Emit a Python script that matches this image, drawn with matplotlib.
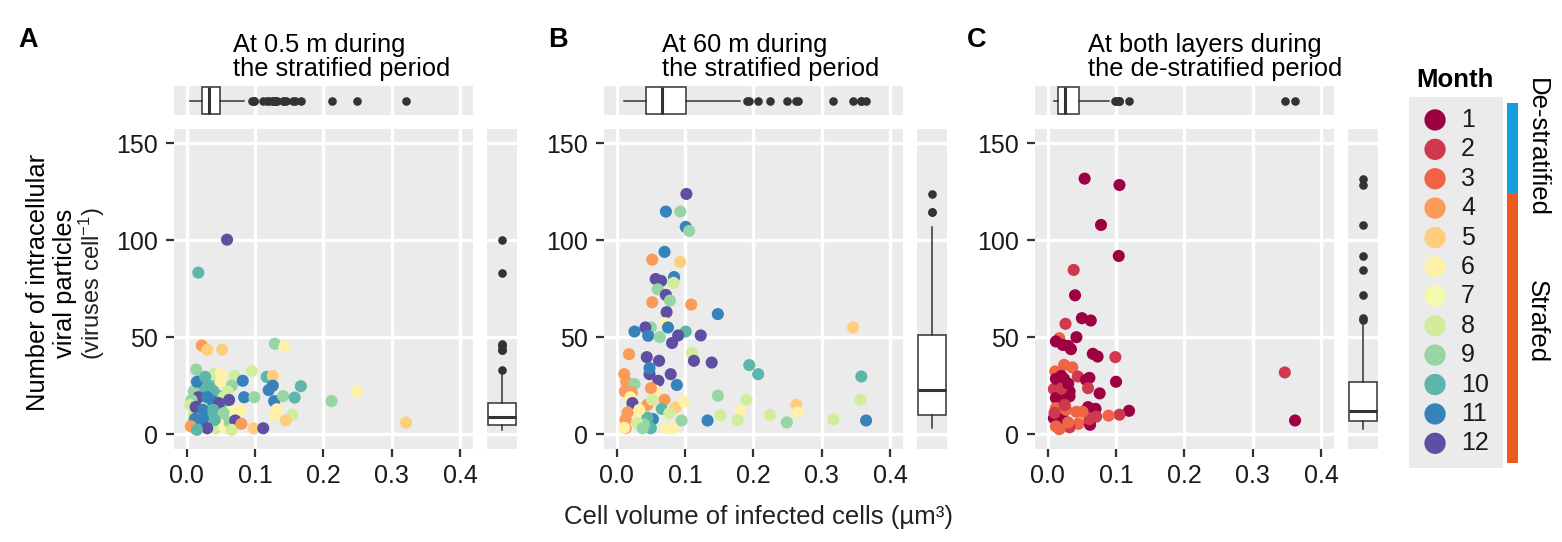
import numpy as np
import matplotlib
matplotlib.use('Agg')
import matplotlib.pyplot as plt
import matplotlib.transforms as mtransforms

plt.rcParams['font.family'] = ['Liberation Sans', 'DejaVu Sans']
plt.rcParams['mathtext.fontset'] = 'custom'
plt.rcParams['mathtext.rm'] = 'Liberation Sans'
plt.rcParams['mathtext.it'] = 'Liberation Sans:italic'

W, H = 1562, 542

# ─── data ────────────────────────────────────────────────────────────────────

# A: 0.5 m, stratified
month_a = [10, 10, 10, 10, 10, 10, 10, 10, 9, 9, 9, 9, 9, 8, 8, 8, 8, 7, 7, 6,
           11, 11, 9, 10, 8, 9, 6, 5, 4,
           9, 8, 6, 6, 8, 11, 10, 10, 9, 8, 8, 11, 11, 9, 12, 11, 12, 12, 9, 8,
           12, 11, 10, 9, 11, 11, 10, 6, 12, 12, 4, 10, 8, 4, 5, 12, 10, 5, 11,
           11, 11, 9, 10, 10, 6, 6, 8, 5, 9, 6, 4, 5, 5, 9, 6, 12, 10, 5]
vol_a = [0.020, 0.025, 0.035, 0.045, 0.018, 0.028, 0.050, 0.038, 0.010, 0.022,
         0.045, 0.035, 0.060, 0.010, 0.042, 0.070, 0.030, 0.055, 0.065, 0.058,
         0.020, 0.038, 0.015, 0.048, 0.008, 0.063, 0.045, 0.010, 0.012,
         0.014, 0.039, 0.050, 0.050, 0.095, 0.015, 0.027, 0.032, 0.066, 0.060,
         0.054, 0.082, 0.084, 0.099, 0.017, 0.030, 0.047, 0.062, 0.007, 0.005,
         0.013, 0.024, 0.039, 0.054, 0.012, 0.024, 0.041, 0.079, 0.071, 0.030,
         0.006, 0.015, 0.066, 0.080, 0.098, 0.112, 0.117, 0.126, 0.126, 0.120,
         0.128, 0.141, 0.158, 0.167, 0.132, 0.129, 0.155, 0.145, 0.212, 0.249,
         0.022, 0.030, 0.052, 0.129, 0.143, 0.059, 0.017, 0.321]
vir_a = [22, 16, 10, 20, 5, 4, 6, 24, 22, 28, 28, 5, 14, 10, 3, 30, 15, 4, 12, 3,
         9, 17, 12, 14, 6, 6, 8, 5, 3,
         33.3, 31, 31, 27, 32.6, 27, 29.5, 25, 25, 22, 19, 27.5, 19, 19, 19, 19,
         16, 17.6, 17.6, 15, 14, 12.5, 12.5, 10.8, 7.8, 7.8, 7.3, 12.5, 7, 3, 4,
         2.2, 2.2, 5.3, 3, 3, 29.5, 30, 25, 22.7, 17, 19.6, 18.8, 24.7, 12.8, 10,
         10, 7, 17, 21.8, 45.7, 43.5, 43.5, 46.6, 45.2, 100.3, 83.3, 5.9]

# B: 60 m, stratified
month_b = [12, 11, 9, 11, 9, 11, 4, 5, 11, 12, 12, 8, 9, 12, 9, 4, 4, 12, 11,
           6, 11, 9, 12, 11, 11, 9, 10, 12, 12, 12, 5, 8, 12, 12, 4, 12, 12, 10,
           10, 10, 4, 4, 12, 12, 12, 11, 9, 4, 4, 6, 6, 9, 8, 8, 4, 12, 4, 10,
           5, 6, 5, 6, 6, 8, 8, 8, 9, 8, 11, 11, 9, 11, 4, 6, 4, 10, 6, 6, 6, 8,
           10, 9, 11, 4, 8, 6, 4, 6, 8, 9]
vol_b = [0.102, 0.072, 0.093, 0.101, 0.106, 0.070, 0.052, 0.093, 0.084, 0.057,
         0.065, 0.083, 0.060, 0.072, 0.078, 0.052, 0.109, 0.073, 0.148, 0.071,
         0.075, 0.050, 0.042, 0.026, 0.046, 0.063, 0.101, 0.090, 0.123, 0.081,
         0.346, 0.110, 0.113, 0.139, 0.018, 0.044, 0.062, 0.194, 0.207, 0.358,
         0.011, 0.014, 0.048, 0.061, 0.079, 0.088, 0.026, 0.012, 0.022, 0.020,
         0.056, 0.148, 0.190, 0.357, 0.070, 0.023, 0.045, 0.066, 0.086, 0.099,
         0.263, 0.265, 0.181, 0.152, 0.224, 0.177, 0.249, 0.317, 0.365, 0.133,
         0.095, 0.053, 0.016, 0.012, 0.013, 0.050, 0.072, 0.082, 0.033, 0.077,
         0.045, 0.040, 0.048, 0.050, 0.052, 0.033, 0.013, 0.011, 0.030, 0.038]
vir_b = [123.9, 114.8, 114.8, 106.9, 104.8, 94, 90, 88.8, 81, 80, 79, 78, 74.7,
         71.8, 68.9, 68, 66.8, 62.9, 61.9, 57.2, 55, 55, 55, 52.9, 50.7, 50,
         52.9, 50.9, 50.9, 47, 55, 41.8, 37.8, 36.9, 41.2, 39.7, 37.8, 35.6,
         30.9, 29.7, 30.9, 27.1, 30.9, 27.5, 30.9, 25.3, 25.8, 22, 21.5, 19,
         22.5, 19.8, 17.7, 17.7, 17.7, 16, 15.1, 13, 13.7, 16.8, 15.1, 11.2, 12,
         9.8, 9.8, 7.2, 6, 7.7, 7, 7, 7, 7.7, 11.2, 6, 3, 3, 3, 3, 7.7, 10.8,
         8.5, 5, 34, 23.7, 17.7, 12.5, 7.4, 3.2, 5.7, 3]

# C: both layers, de-stratified
month_c = [1, 1, 1, 1, 2, 1, 1, 1, 2, 1, 3, 1, 1, 1, 1, 1, 1, 2, 3, 3, 2, 3,
           1, 1, 2, 1, 1, 1, 2, 1, 1, 2, 1, 1, 1, 1, 2, 3, 1, 1, 1, 2, 3, 2, 1,
           3, 1, 2, 1, 1, 3, 3, 3, 2, 3, 3, 2, 1, 3, 2]
vol_c = [0.054, 0.105, 0.078, 0.104, 0.038, 0.040, 0.050, 0.063, 0.026, 0.042,
         0.017, 0.012, 0.022, 0.034, 0.030, 0.066, 0.073, 0.099, 0.024, 0.036,
         0.347, 0.011, 0.024, 0.020, 0.044, 0.056, 0.061, 0.100, 0.009, 0.012,
         0.032, 0.059, 0.076, 0.012, 0.024, 0.032, 0.020, 0.012, 0.059, 0.070,
         0.119, 0.105, 0.089, 0.071, 0.362, 0.045, 0.062, 0.061, 0.009, 0.022,
         0.027, 0.042, 0.051, 0.032, 0.012, 0.017, 0.010, 0.030, 0.030, 0.025]
vir_c = [131.8, 128.5, 107.9, 91.9, 84.7, 71.6, 59.8, 58.6, 56.9, 50, 49.5,
         47.8, 46, 43.8, 45.5, 41.4, 40, 39.7, 35.7, 34.4, 31.8, 32.3, 28.4, 30,
         29.7, 28, 29, 27, 23.2, 28.5, 22, 23.7, 21, 18.6, 17.7, 19.5, 23.5,
         13.4, 13.9, 13, 12, 10, 9.5, 9, 7, 5.3, 4.8, 7.7, 8.2, 8.2, 12.5, 11.5,
         11.5, 3.5, 4, 2.5, 11, 26, 6, 15]

# box quartiles (q1, median, q3)
volq_a = [0.0227, 0.033, 0.049]
virq_a = [4.8, 8.8, 16.0]
volq_b = [0.0436, 0.0656, 0.102]
virq_b = [10.0, 22.9, 50.9]
volq_c = [0.0147, 0.0254, 0.0455]
virq_c = [6.5, 12.0, 26.8]

letters = ['A', 'B', 'C']
titles = [['At 0.5 m during', 'the stratified period'],
          ['At 60 m during', 'the stratified period'],
          ['At both layers during', 'the de-stratified period']]

months = list(range(1, 13))
periods = ['De-stratified', 'Strafed']
period_months = [[1, 2, 3], [4, 5, 6, 7, 8, 9, 10, 11, 12]]
period_colors = ['#139FE0', '#E95A1C']

x_ticks = [0.0, 0.1, 0.2, 0.3, 0.4]
y_ticks = [0, 50, 100, 150]

# ─── layout helpers ──────────────────────────────────────────────────────────

def box_px(x0, y0, x1, y1):
    return [x0 / W, 1 - y1 / H, (x1 - x0) / W, (y1 - y0) / H]

def make_stats(data, q):
    q1, med, q3 = q
    d = np.asarray(data)
    iqr = q3 - q1
    lo, hi = q1 - 1.5 * iqr, q3 + 1.5 * iqr
    inside = d[(d >= lo) & (d <= hi)]
    return dict(q1=q1, med=med, q3=q3, whislo=inside.min(),
                whishi=inside.max(), fliers=d[(d < lo) | (d > hi)])

BG = '#EBEBEB'
DARK = '#333333'
cols = plt.cm.Spectral(np.linspace(0, 1, 12))

bx_kw = dict(widths=0.92, showcaps=False, patch_artist=True,
             boxprops=dict(facecolor='white', edgecolor=DARK, linewidth=1.1),
             whiskerprops=dict(color=DARK, linewidth=1.1),
             medianprops=dict(color=DARK, linewidth=2.2),
             flierprops=dict(marker='o', markerfacecolor=DARK,
                             markeredgecolor='none', markersize=6.2))

def style(ax):
    ax.set_facecolor(BG)
    for s in ax.spines.values():
        s.set_visible(False)
    ax.set_axisbelow(True)

fig = plt.figure(figsize=(W / 100, H / 100), dpi=100)

panel_x = [174, 604, 1035]
letter_x = [18, 548, 967]
title_x = [233, 662, 1088]
data = [(month_a, vol_a, vir_a, volq_a, virq_a),
        (month_b, vol_b, vir_b, volq_b, virq_b),
        (month_c, vol_c, vir_c, volq_c, virq_c)]

XLIM = (-0.0186, 0.419)
YLIM = (-7.7, 157.4)

for i, (mon, vol, vir, vq, yq) in enumerate(data):
    x0 = panel_x[i]
    ax = fig.add_axes(box_px(x0, 129, x0 + 299, 449))
    style(ax)
    ax.grid(True, color='white', linewidth=2.4)
    c = [cols[m - 1] for m in mon]
    ax.scatter(vol, vir, c=c, s=76, edgecolors='none', zorder=3)
    ax.set_xlim(*XLIM)
    ax.set_ylim(*YLIM)
    ax.set_xticks(x_ticks, [f'{t:.1f}' for t in x_ticks])
    ax.set_yticks(y_ticks, [str(t) for t in y_ticks])
    ax.tick_params(length=5.8, width=1.6, color=DARK, labelsize=18,
                   labelcolor='#1a1a1a')
    ax.tick_params(axis='x', pad=5)
    ax.tick_params(axis='y', pad=6)

    # top marginal boxplot (cell volume)
    axt = fig.add_axes(box_px(x0, 86, x0 + 299, 115))
    style(axt)
    axt.grid(True, axis='x', color='white', linewidth=2.4)
    axt.bxp([make_stats(vol, vq)], positions=[0], orientation='horizontal', **bx_kw)
    axt.set_xlim(*XLIM)
    axt.set_ylim(-0.5, 0.5)
    axt.set_xticks(x_ticks)
    axt.set_yticks([])
    axt.tick_params(bottom=False, labelbottom=False, left=False, labelleft=False)

    # side marginal boxplot (viral particles)
    axs = fig.add_axes(box_px(x0 + 313, 129, x0 + 343, 449))
    style(axs)
    axs.grid(True, axis='y', color='white', linewidth=2.4)
    axs.bxp([make_stats(vir, yq)], positions=[0], orientation='vertical', **bx_kw)
    axs.set_ylim(*YLIM)
    axs.set_xlim(-0.5, 0.5)
    axs.set_yticks(y_ticks)
    axs.set_xticks([])
    axs.tick_params(bottom=False, labelbottom=False, left=False, labelleft=False)

    fig.text(letter_x[i] / W, 1 - 47 / H, letters[i], fontsize=19.5,
             fontweight='bold', va='baseline', ha='left')
    fig.text(title_x[i] / W, 1 - 52 / H, titles[i][0], fontsize=18.3,
             va='baseline', ha='left')
    fig.text(title_x[i] / W, 1 - 76 / H, titles[i][1], fontsize=18.3,
             va='baseline', ha='left')

# axis titles
fig.text(38 / W, 1 - 282 / H, 'Number of intracellular', rotation=90,
         fontsize=18.4, ha='center', va='center')
fig.text(65 / W, 1 - 283 / H, 'viral particles', rotation=90,
         fontsize=18.4, ha='center', va='center')
fig.text(92 / W, 1 - 284 / H, r'(viruses cell$^{-1}$)', rotation=90,
         fontsize=17, ha='center', va='center', color='#222222')
fig.text(758 / W, 1 - 517 / H, 'Cell volume of infected cells (µm³)',
         fontsize=18.5, ha='center', va='center', color='#222222')

# legend
axl = fig.add_axes(box_px(1409, 97, 1503, 468))
axl.set_facecolor(BG)
for s in axl.spines.values():
    s.set_visible(False)
axl.set_xticks([])
axl.set_yticks([])
axl.set_xlim(0, 1)
axl.set_ylim(11.84, -0.78)
idx = np.arange(len(months))
axl.scatter(np.full(len(months), 0.277), idx, c=cols, s=235, edgecolors='none')
for k, m in enumerate(months):
    axl.text(0.553, k, str(m), fontsize=18, va='center', ha='left',
             color='#1a1a1a')
fig.text(1455 / W, 1 - 80 / H, 'Month', fontsize=18.5, fontweight='bold',
         ha='center', va='center')

axb = fig.add_axes(box_px(1507, 103, 1518, 463))
axb.axis('off')
axb.set_xlim(-0.5, 0.5)
axb.set_ylim(11.5, -0.5)
tr = mtransforms.blended_transform_factory(axb.transAxes, axb.transData)
for name, pm, pc in zip(periods, period_months, period_colors):
    lo = pm[0] - 1 - 0.5
    hi = pm[-1] - 1 + 0.5
    axb.bar(0, hi - lo, bottom=lo, width=1.0, color=pc)
    axb.text(2.75, (lo + hi) / 2 - (0.2 if name == 'Strafed' else 0), name,
             transform=tr, rotation=270, fontsize=18.5, ha='center', va='center')

fig.savefig('out.png', dpi=100)
